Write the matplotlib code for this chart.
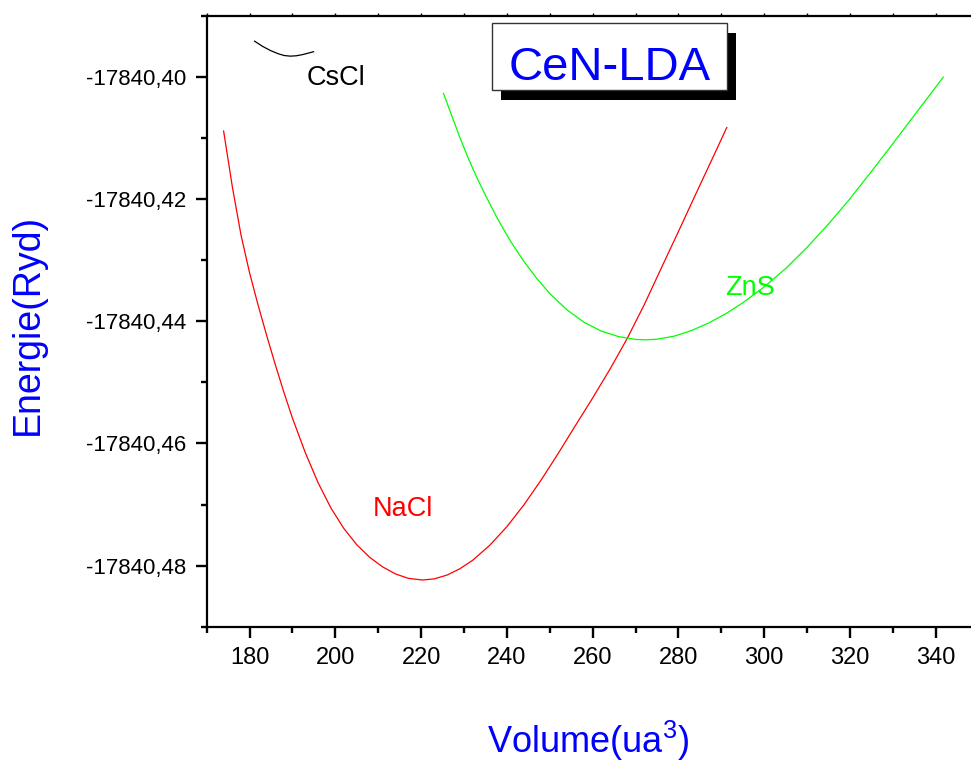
import matplotlib
matplotlib.use("Agg")
import matplotlib.pyplot as plt
from matplotlib.patches import Rectangle
from matplotlib.ticker import FixedLocator, FuncFormatter, MultipleLocator

plt.rcParams["font.family"] = ["Liberation Sans", "DejaVu Sans"]
plt.rcParams["mathtext.fontset"] = "custom"
plt.rcParams["mathtext.rm"] = "Liberation Sans"
plt.rcParams["mathtext.it"] = "Liberation Sans:italic"

# E(V) curves, volume in ua^3, energy in Ryd
nacl_v = [173.94, 176, 178, 180, 182, 184, 186, 188, 190, 193, 196, 199, 202, 205,
          208, 211, 214, 217, 220.3, 223, 226, 229, 232, 236, 240, 244, 248, 252,
          256, 260, 264, 268, 272, 276, 280, 284, 288, 291.28]
nacl_e = [-17840.40887, -17840.41809, -17840.42591, -17840.43209, -17840.43740,
          -17840.44237, -17840.44712, -17840.45163, -17840.45587, -17840.46153,
          -17840.46648, -17840.47061, -17840.47394, -17840.47659, -17840.47864,
          -17840.48020, -17840.48136, -17840.48208, -17840.48236, -17840.48218,
          -17840.48156, -17840.48053, -17840.47914, -17840.47668, -17840.47363,
          -17840.47003, -17840.46598, -17840.46161, -17840.45706, -17840.45257,
          -17840.44790, -17840.44290, -17840.43735, -17840.43132, -17840.42533,
          -17840.41926, -17840.41326, -17840.40830]

zns_v = [225.22, 227, 229, 231, 233, 235, 238, 241, 244, 247, 250, 254, 258, 262,
         266, 270, 272.3, 275, 279, 283, 287, 291, 295, 300, 305, 310, 315, 320,
         325, 330, 335, 341.77]
zns_e = [-17840.40271, -17840.40611, -17840.40986, -17840.41335, -17840.41650,
         -17840.41940, -17840.42346, -17840.42708, -17840.43024, -17840.43303,
         -17840.43547, -17840.43813, -17840.44018, -17840.44161, -17840.44251,
         -17840.44298, -17840.44305, -17840.44295, -17840.44245, -17840.44154,
         -17840.44032, -17840.43880, -17840.43700, -17840.43438, -17840.43139,
         -17840.42791, -17840.42409, -17840.41996, -17840.41550, -17840.41095,
         -17840.40630, -17840.40005]

cscl_v = [181.17, 182.96, 184.83, 186.69, 188.09, 189.49, 190.89, 192.28, 193.68, 194.92]
cscl_e = [-17840.39417, -17840.39499, -17840.39569, -17840.39623, -17840.39652,
          -17840.39662, -17840.39656, -17840.39638, -17840.39613, -17840.39589]

x_major = [180, 200, 220, 240, 260, 280, 300, 320, 340]
y_major = [-17840.48, -17840.46, -17840.44, -17840.42, -17840.40]
y_minor = [-17840.49, -17840.47, -17840.45, -17840.43, -17840.41, -17840.39]

fig = plt.figure(figsize=(9.71, 7.62), dpi=100)
W, H = 971, 762
ax = fig.add_axes([206.7 / W, (H - 626.7) / H, (978.6 - 206.7) / W, (626.7 - 15.7) / H])

ax.plot(nacl_v, nacl_e, color="#ff0000", lw=0.9)
ax.plot(zns_v, zns_e, color="#00ff00", lw=0.9)
ax.plot(cscl_v, cscl_e, color="black", lw=0.9)

ax.set_xlim(170, 350)
ax.set_ylim(-17840.49, -17840.39)

ax.xaxis.set_major_locator(FixedLocator(x_major))
ax.xaxis.set_minor_locator(MultipleLocator(10))
ax.yaxis.set_major_locator(FixedLocator(y_major))
ax.yaxis.set_minor_locator(FixedLocator(y_minor))
ax.yaxis.set_major_formatter(FuncFormatter(lambda v, p: f"{v:.2f}".replace(".", ",")))

for s in ("left", "bottom", "top"):
    ax.spines[s].set_linewidth(1.6)
ax.spines["right"].set_visible(False)

ax.tick_params(axis="both", which="major", direction="out", length=7.9, width=1.7)
ax.tick_params(axis="both", which="minor", direction="out", length=4.0, width=1.7)
ax.tick_params(axis="y", labelsize=16, pad=6.5)
ax.tick_params(axis="x", labelsize=17, pad=7)

top = ax.secondary_xaxis("top")
top.xaxis.set_major_locator(MultipleLocator(10))
top.tick_params(direction="out", length=2, width=1, labeltop=False)
top.spines["top"].set_visible(False)

ax.text(200.2, -17840.4002, "CsCl", fontsize=19.5, color="black", ha="center", va="center")
ax.text(215.8, -17840.4707, "NaCl", fontsize=19.5, color="#ff0000", ha="center", va="center")
ax.text(296.7, -17840.4345, "ZnS", fontsize=19.5, color="#00ff00", ha="center", va="center")

# framed title with drop shadow
fig.add_artist(Rectangle((501 / W, 1 - 100 / H), (736 - 501) / W, (100 - 33) / H,
                         transform=fig.transFigure, facecolor="black", edgecolor="none"))
fig.add_artist(Rectangle((492 / W, 1 - 90 / H), (727 - 492) / W, (90 - 23) / H,
                         transform=fig.transFigure, facecolor="white", edgecolor="#333333",
                         linewidth=1.0))
fig.text(609.5 / W, 1 - 80 / H, "CeN-LDA", fontsize=34, color="#0000ff",
         ha="center", va="baseline")

fig.text(28 / W, 1 - 324 / H, "Energie(Ryd)", fontsize=27, color="#0000ff",
         rotation=90, ha="center", va="center")
fig.text(588 / W, 1 - 753 / H, r"Volume(ua$^{3}$)", fontsize=26, color="#0000ff",
         ha="center", va="baseline")

fig.savefig("out.png", dpi=100)
